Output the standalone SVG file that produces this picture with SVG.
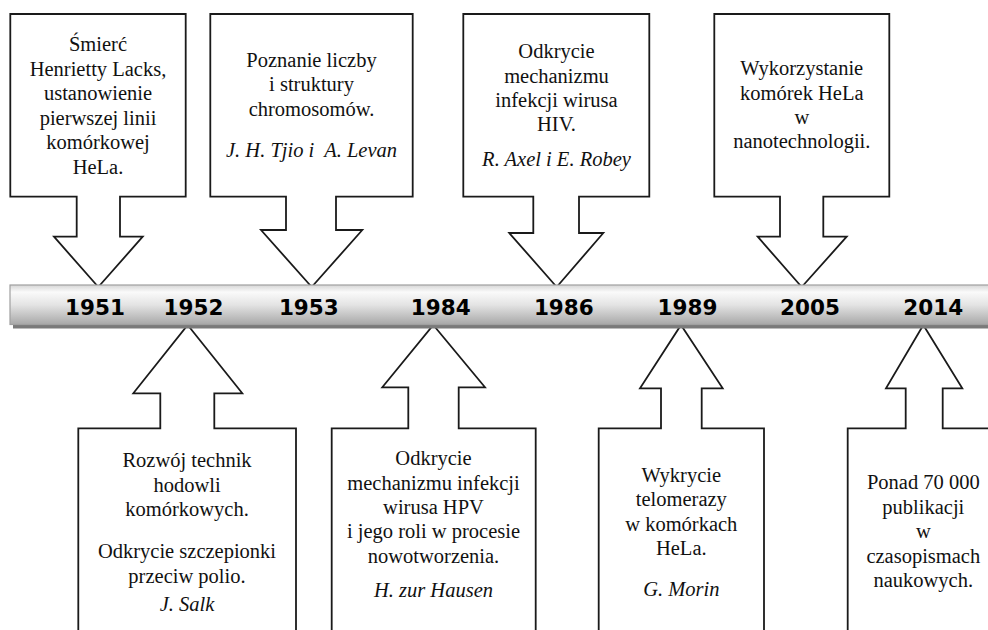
<svg xmlns="http://www.w3.org/2000/svg" width="988" height="630" viewBox="0 0 988 630">
<style>
.co{fill:#fff;stroke:#1a1a1a;stroke-width:1.8;stroke-linejoin:miter}
.t{font-family:'Liberation Serif','Times New Roman',Tinos,'DejaVu Serif',serif;font-size:20.5px;fill:#111;text-anchor:middle}
.i{font-style:italic}
.yr{font-family:'DejaVu Sans',Verdana,sans-serif;font-weight:bold;font-size:21.5px;fill:#000;text-anchor:middle}
</style>
<defs>
<linearGradient id="bar" x1="0" y1="0" x2="0" y2="1">
<stop offset="0" stop-color="#d6d6d6"/>
<stop offset="0.18" stop-color="#fafafa"/>
<stop offset="0.5" stop-color="#e4e4e4"/>
<stop offset="1" stop-color="#a8a8a8"/>
</linearGradient>
</defs>
<rect width="988" height="630" fill="#fff"/>

<g id="callout-1951">
<path class="co" d="M10.3,14 H185.7 V196.7 H120 V236.7 H142.7 L98.3,287 L54,236.7 H76.7 V196.7 H10.3 Z"/>
<text class="t" font-family="Liberation Serif, serif" x="98" y="50.7">Śmierć</text>
<text class="t" font-family="Liberation Serif, serif" x="98" y="76">Henrietty Lacks,</text>
<text class="t" font-family="Liberation Serif, serif" x="98" y="100">ustanowienie</text>
<text class="t" font-family="Liberation Serif, serif" x="98" y="125">pierwszej linii</text>
<text class="t" font-family="Liberation Serif, serif" x="98" y="149">komórkowej</text>
<text class="t" font-family="Liberation Serif, serif" x="98" y="174">HeLa.</text>
</g>

<g id="callout-1953">
<path class="co" d="M210.3,14 H412.7 V196.7 H336 V230 H362.3 L311.7,287 L261,230 H286 V196.7 H210.3 Z"/>
<text class="t" x="311.5" y="66.7">Poznanie liczby</text>
<text class="t" x="311.5" y="91">i struktury</text>
<text class="t" x="311.5" y="115.7">chromosomów.</text>
<text class="t i" x="311.5" y="156.7" xml:space="preserve">J. H. Tjio i  A. Levan</text>
</g>

<g id="callout-1986">
<path class="co" d="M463.3,14 H649.3 V196.7 H579 V233 H603.3 L556.7,287 L509.3,233 H533.3 V196.7 H463.3 Z"/>
<text class="t" x="556.5" y="58.3">Odkrycie</text>
<text class="t" x="556.5" y="82.7">mechanizmu</text>
<text class="t" x="556.5" y="106.7">infekcji wirusa</text>
<text class="t" x="556.5" y="131">HIV.</text>
<text class="t i" x="556.5" y="165.7">R. Axel i E. Robey</text>
</g>

<g id="callout-2005">
<path class="co" d="M714.3,14 H889.3 V196.7 H823.3 V236.7 H846.7 L801.7,287 L757.7,236.7 H780 V196.7 H714.3 Z"/>
<text class="t" x="801.8" y="75">Wykorzystanie</text>
<text class="t" x="801.8" y="100">komórek HeLa</text>
<text class="t" x="801.8" y="124">w</text>
<text class="t" x="801.8" y="148.3">nanotechnologii.</text>
</g>

<g id="callout-1952">
<path class="co" d="M187.7,325 L242.3,393.3 H214.3 V428.3 H296 V640 H78.3 V428.3 H160.3 V393.3 H133.3 Z"/>
<text class="t" x="187" y="466.7">Rozwój technik</text>
<text class="t" x="187" y="491.7">hodowli</text>
<text class="t" x="187" y="516">komórkowych.</text>
<text class="t" x="187" y="558.3">Odkrycie szczepionki</text>
<text class="t" x="187" y="582.7">przeciw polio.</text>
<text class="t i" x="187" y="610.7">J. Salk</text>
</g>

<g id="callout-1984">
<path class="co" d="M433.3,325 L485,387.3 H458.7 V428.3 H535.7 V640 H331.7 V428.3 H408.3 V387.3 H382.3 Z"/>
<text class="t" x="433.5" y="465">Odkrycie</text>
<text class="t" x="433.5" y="490">mechanizmu infekcji</text>
<text class="t" x="433.5" y="514">wirusa HPV</text>
<text class="t" x="433.5" y="538.3">i jego roli w procesie</text>
<text class="t" x="433.5" y="562.7">nowotworzenia.</text>
<text class="t i" x="433.5" y="597.3">H. zur Hausen</text>
</g>

<g id="callout-1989">
<path class="co" d="M681,325 L722.7,388.3 H701.7 V428.3 H764 V640 H598.7 V428.3 H661 V388.3 H640 Z"/>
<text class="t" x="681.3" y="481.7">Wykrycie</text>
<text class="t" x="681.3" y="506">telomerazy</text>
<text class="t" x="681.3" y="530.7">w komórkach</text>
<text class="t" x="681.3" y="555">HeLa.</text>
<text class="t i" x="681.3" y="595.7">G. Morin</text>
</g>

<g id="callout-2014">
<path class="co" d="M923.3,325 L962.3,388.3 H942.7 V428.3 H1000 V640 H847.7 V428.3 H905.7 V388.3 H886 Z"/>
<text class="t" x="923.3" y="489.3">Ponad 70 000</text>
<text class="t" x="923.3" y="514">publikacji</text>
<text class="t" x="923.3" y="538.3">w</text>
<text class="t" x="923.3" y="562.7">czasopismach</text>
<text class="t" x="923.3" y="587.3">naukowych.</text>
</g>

<g id="timeline">
<rect x="13" y="289" width="990" height="39.5" fill="#7a7a7a"/>
<rect x="10" y="285" width="990" height="39.5" fill="url(#bar)" stroke="#a0a0a0" stroke-width="1.2"/>
<text class="yr" x="95" y="315">1951</text>
<text class="yr" x="193.5" y="315">1952</text>
<text class="yr" x="308.8" y="315">1953</text>
<text class="yr" x="440.7" y="315">1984</text>
<text class="yr" x="563.8" y="315">1986</text>
<text class="yr" x="687.5" y="315">1989</text>
<text class="yr" x="810" y="315">2005</text>
<text class="yr" x="933.2" y="315">2014</text>
</g>
</svg>
